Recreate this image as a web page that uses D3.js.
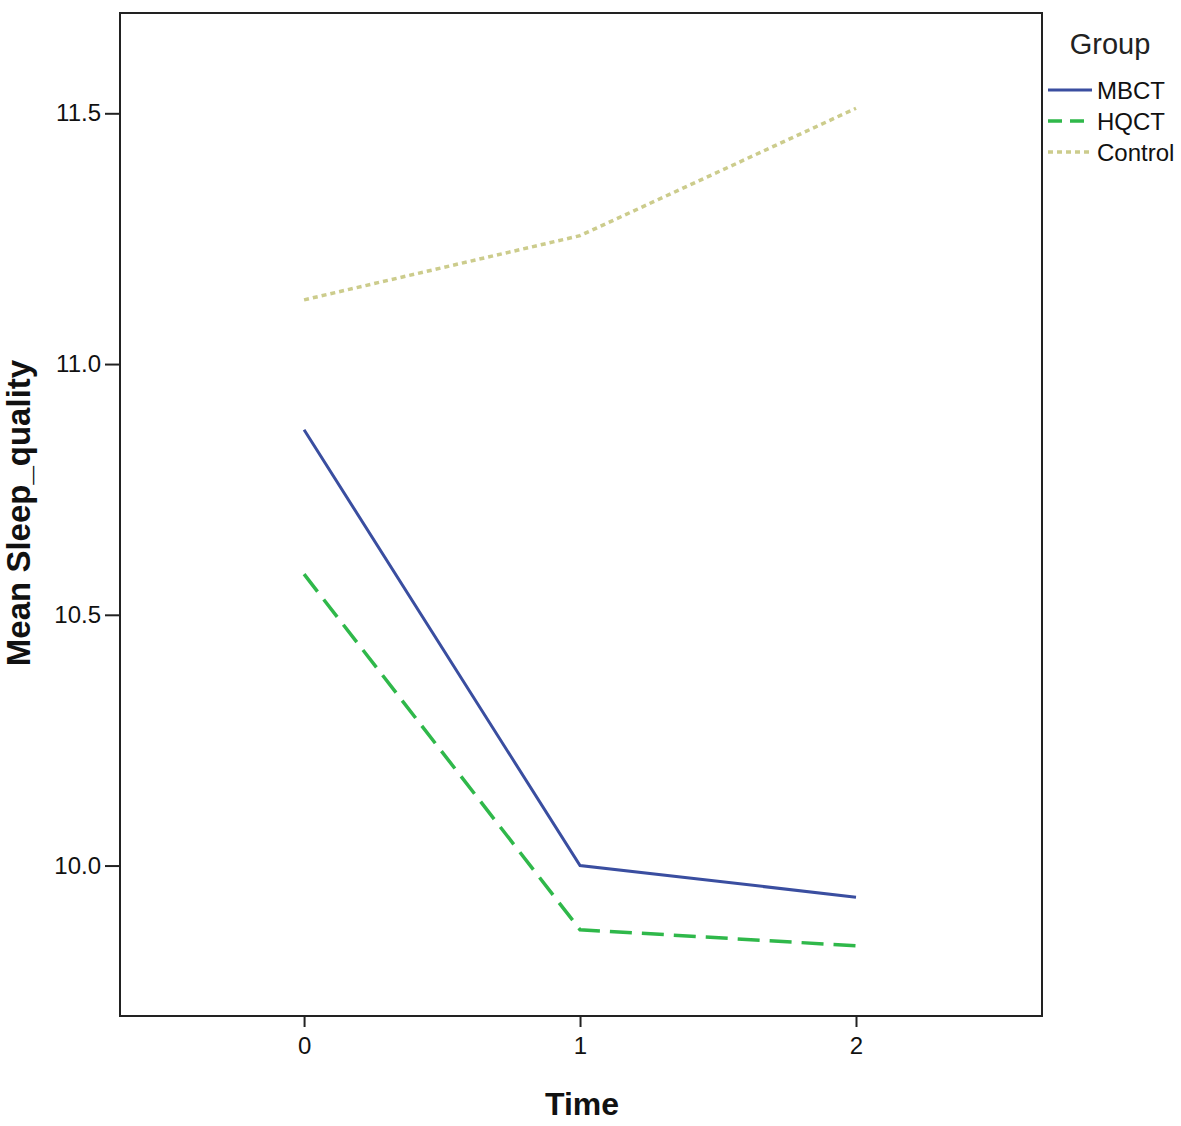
<!DOCTYPE html>
<html><head><meta charset="utf-8">
<script src="https://cdn.jsdelivr.net/npm/d3@7"></script>
<style>body{margin:0;background:#fff;} text{font-family:"Liberation Sans",Arial,sans-serif;}</style>
</head><body>
<svg id="c" width="1181" height="1126"></svg>
<script>
const times = [0, 1, 2];
const groups = ["MBCT", "HQCT", "Control"];
const mbct = [10.869, 10.0, 9.937];
const hqct = [10.581, 9.872, 9.840];
const control = [11.128, 11.256, 11.51];
const yTicks = [10.0, 10.5, 11.0, 11.5];
const seriesValues = [mbct, hqct, control];

const colors = ["#3a4ea0", "#2fb84a", "#cccc8c"];
const dashes = [null, "22,10", "5,4"];
const widths = [3, 3.5, 3.5];

const svg = d3.select("#c");
const L = 120, R = 1042, T = 13, B = 1016;
const x = d3.scaleLinear().domain([-0.667, 2.674]).range([L, R]);
const y = d3.scaleLinear().domain([9.7, 11.7]).range([B, T]);

svg.append("rect").attr("x", L).attr("y", T).attr("width", R - L).attr("height", B - T)
  .attr("fill", "none").attr("stroke", "#222").attr("stroke-width", 2);

const yAxis = svg.append("g").attr("transform", `translate(${L},0)`)
  .call(d3.axisLeft(y).tickValues(yTicks).tickFormat(d3.format(".1f")).tickSize(15).tickPadding(4));
const xAxis = svg.append("g").attr("transform", `translate(0,${B})`)
  .call(d3.axisBottom(x).tickValues(times).tickFormat(d3.format("d")).tickSize(11).tickPadding(10));
[yAxis, xAxis].forEach(g => {
  g.select(".domain").remove();
  g.selectAll("line").attr("stroke", "#222").attr("stroke-width", 2);
  g.selectAll("text").attr("font-size", 24).attr("fill", "#111").attr("font-family", '"Liberation Sans",Arial,sans-serif');
});

const line = d3.line().x((d, i) => x(times[i])).y(d => y(d));
seriesValues.forEach((vals, k) => {
  const p = svg.append("path").datum(vals).attr("d", line)
    .attr("fill", "none").attr("stroke", colors[k]).attr("stroke-width", widths[k]);
  if (dashes[k]) p.attr("stroke-dasharray", dashes[k]);
});

svg.append("text").attr("x", 582).attr("y", 1115).attr("text-anchor", "middle")
  .attr("font-size", 32).attr("font-weight", "bold").attr("fill", "#111").text("Time");
svg.append("text").attr("transform", `translate(30,513) rotate(-90)`).attr("text-anchor", "middle")
  .attr("font-size", 33).attr("font-weight", "bold").attr("fill", "#111").text("Mean Sleep_quality");

// legend
svg.append("text").attr("x", 1110).attr("y", 54).attr("text-anchor", "middle")
  .attr("font-size", 29).attr("fill", "#222").text("Group");
groups.forEach((g, k) => {
  const yy = 90 + k * 31;
  const l = svg.append("line").attr("x1", 1048).attr("x2", 1092).attr("y1", yy).attr("y2", yy)
    .attr("stroke", colors[k]).attr("stroke-width", widths[k]);
  if (dashes[k]) l.attr("stroke-dasharray", k === 1 ? "14,8" : "5,4");
  svg.append("text").attr("x", 1097).attr("y", yy + 9).attr("font-size", 24).attr("fill", "#111").text(g);
});
</script>
</body></html>
